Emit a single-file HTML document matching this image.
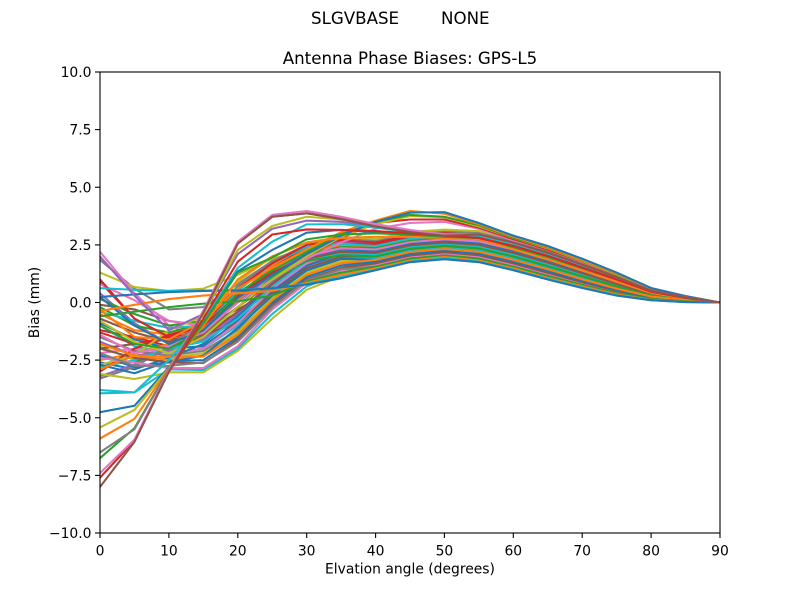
<!DOCTYPE html>
<html><head><meta charset="utf-8"><style>
html,body{margin:0;padding:0;background:#fff;}
svg{display:block;}
text{font-family:"DejaVu Sans","Liberation Sans",sans-serif;fill:#000;}
</style></head><body>
<svg width="800" height="600" viewBox="0 0 800 600" xmlns="http://www.w3.org/2000/svg">
<rect x="0" y="0" width="800" height="600" fill="#fff"/>
<text x="311" y="24" font-size="16.67">SLGVBASE</text>
<text x="441" y="24" font-size="16.67">NONE</text>
<text x="410" y="64" font-size="16.67" text-anchor="middle">Antenna Phase Biases: GPS-L5</text>
<defs><clipPath id="c"><rect x="100" y="72" width="620" height="461"/></clipPath></defs>
<g clip-path="url(#c)">
<g transform="translate(100,302.5) scale(6.888889,-23.05)" fill="none" stroke-width="2.08" stroke-linejoin="round" stroke-linecap="square">
<!-- middle bundle -->
<polyline vector-effect="non-scaling-stroke" stroke="#7f7f7f" points="0,1.85 5,0.6 10,-0.3 15,-0.2 20,0.8 25,1.8 30,2.4 35,2.5 40,2.45 45,2.77 50,2.88 55,2.8 60,2.45 65,2.02 70,1.52 75,1.0 80,0.47 85,0.2 90,0"/>
<polyline vector-effect="non-scaling-stroke" stroke="#bcbd22" points="0,1.3 5,0.67 10,0.5 15,0.6 20,1.2 25,1.9 30,2.3 35,2.4 40,2.38 45,2.7 50,2.81 55,2.72 60,2.38 65,1.94 70,1.46 75,0.95 80,0.45 85,0.19 90,0"/>
<polyline vector-effect="non-scaling-stroke" stroke="#d62728" points="0,0.9 5,-0.7 10,-1.5 15,-1.3 20,-0.2 25,0.9 30,1.7 35,2.1 40,2.0 45,2.33 50,2.46 55,2.35 60,2.0 65,1.58 70,1.14 75,0.7 80,0.31 85,0.12 90,0"/>
<polyline vector-effect="non-scaling-stroke" stroke="#9467bd" points="0,0.4 5,-0.9 10,-1.8 15,-1.7 20,-0.6 25,0.6 30,1.5 35,1.95 40,1.92 45,2.26 50,2.39 55,2.28 60,1.92 65,1.51 70,1.08 75,0.65 80,0.28 85,0.11 90,0"/>
<polyline vector-effect="non-scaling-stroke" stroke="#8c564b" points="0,-0.1 5,-0.3 10,-0.8 15,-1.0 20,-0.3 25,0.5 30,1.4 35,1.85 40,1.85 45,2.19 50,2.32 55,2.2 60,1.85 65,1.44 70,1.01 75,0.6 80,0.26 85,0.1 90,0"/>
<polyline vector-effect="non-scaling-stroke" stroke="#e377c2" points="0,2.2 5,0.4 10,-1.0 15,-1.6 20,-0.8 25,0.4 30,1.3 35,1.8 40,1.78 45,2.11 50,2.25 55,2.12 60,1.78 65,1.36 70,0.95 75,0.55 80,0.23 85,0.08 90,0"/>
<polyline vector-effect="non-scaling-stroke" stroke="#2ca02c" points="0,-0.2 5,-1.0 10,-1.3 15,-0.9 20,0.4 25,1.4 30,2.1 35,2.3 40,2.22 45,2.55 50,2.67 55,2.58 60,2.22 65,1.8 70,1.33 75,0.85 80,0.4 85,0.16 90,0"/>
<polyline vector-effect="non-scaling-stroke" stroke="#ff7f0e" points="0,-0.5 5,-1.2 10,-1.4 15,-1.2 20,0.3 25,1.6 30,2.3 35,2.4 40,2.3 45,2.62 50,2.74 55,2.65 60,2.3 65,1.87 70,1.39 75,0.9 80,0.42 85,0.18 90,0"/>
<polyline vector-effect="non-scaling-stroke" stroke="#1f77b4" points="0,-0.9 5,-1.6 10,-2.0 15,-1.9 20,-0.8 25,0.5 30,1.6 35,2.1 40,2.08 45,2.4 50,2.53 55,2.42 60,2.08 65,1.65 70,1.2 75,0.75 80,0.34 85,0.14 90,0"/>
<polyline vector-effect="non-scaling-stroke" stroke="#17becf" points="0,-1.0 5,-1.9 10,-2.2 15,-2.0 20,-1.0 25,0.3 30,1.4 35,1.95 40,1.92 45,2.26 50,2.39 55,2.28 60,1.92 65,1.51 70,1.08 75,0.65 80,0.28 85,0.11 90,0"/>
<polyline vector-effect="non-scaling-stroke" stroke="#d62728" points="0,-1.2 5,-1.5 10,-1.9 15,-1.5 20,-0.4 25,0.8 30,1.8 35,2.2 40,2.15 45,2.48 50,2.6 55,2.5 60,2.15 65,1.73 70,1.27 75,0.8 80,0.37 85,0.15 90,0"/>
<polyline vector-effect="non-scaling-stroke" stroke="#7f7f7f" points="0,-1.5 5,-2.1 10,-2.3 15,-2.1 20,-1.2 25,0.1 30,1.2 35,1.7 40,1.7 45,2.04 50,2.18 55,2.05 60,1.7 65,1.29 70,0.88 75,0.5 80,0.21 85,0.07 90,0"/>
<polyline vector-effect="non-scaling-stroke" stroke="#9467bd" points="0,-1.7 5,-2.3 10,-2.1 15,-1.6 20,-0.5 25,0.9 30,2.0 35,2.35 40,2.3 45,2.62 50,2.74 55,2.65 60,2.3 65,1.87 70,1.39 75,0.9 80,0.42 85,0.18 90,0"/>
<polyline vector-effect="non-scaling-stroke" stroke="#bcbd22" points="0,-1.9 5,-2.5 10,-2.4 15,-2.2 20,-1.3 25,0.2 30,1.3 35,1.8 40,1.78 45,2.11 50,2.25 55,2.12 60,1.78 65,1.36 70,0.95 75,0.55 80,0.23 85,0.08 90,0"/>
<polyline vector-effect="non-scaling-stroke" stroke="#8c564b" points="0,-2.0 5,-1.8 10,-1.6 15,-1.4 20,-0.9 25,0.4 30,1.5 35,2.0 40,2.0 45,2.33 50,2.46 55,2.35 60,2.0 65,1.58 70,1.14 75,0.7 80,0.31 85,0.12 90,0"/>
<polyline vector-effect="non-scaling-stroke" stroke="#e377c2" points="0,-2.2 5,-2.0 10,-2.2 15,-2.0 20,-0.9 25,0.6 30,1.7 35,2.2 40,2.15 45,2.48 50,2.6 55,2.5 60,2.15 65,1.73 70,1.27 75,0.8 80,0.37 85,0.15 90,0"/>
<polyline vector-effect="non-scaling-stroke" stroke="#2ca02c" points="0,-2.4 5,-2.6 10,-2.0 15,-1.4 20,-0.2 25,1.1 30,2.1 35,2.45 40,2.38 45,2.7 50,2.81 55,2.72 60,2.38 65,1.94 70,1.46 75,0.95 80,0.45 85,0.19 90,0"/>
<polyline vector-effect="non-scaling-stroke" stroke="#ff7f0e" points="0,-2.5 5,-2.2 10,-1.8 15,-1.1 20,0.1 25,1.3 30,2.2 35,2.5 40,2.45 45,2.77 50,2.88 55,2.8 60,2.45 65,2.02 70,1.52 75,1.0 80,0.47 85,0.2 90,0"/>
<polyline vector-effect="non-scaling-stroke" stroke="#1f77b4" points="0,-2.6 5,-2.9 10,-2.4 15,-1.8 20,-0.6 25,0.8 30,1.9 35,2.3 40,2.22 45,2.55 50,2.67 55,2.58 60,2.22 65,1.8 70,1.33 75,0.85 80,0.4 85,0.16 90,0"/>
<polyline vector-effect="non-scaling-stroke" stroke="#17becf" points="0,-2.8 5,-2.5 10,-2.0 15,-1.7 20,-0.7 25,0.7 30,1.8 35,2.15 40,2.08 45,2.4 50,2.53 55,2.42 60,2.08 65,1.65 70,1.2 75,0.75 80,0.34 85,0.14 90,0"/>
<polyline vector-effect="non-scaling-stroke" stroke="#d62728" points="0,-3.0 5,-2.0 10,-1.4 15,-1.0 20,0.2 25,1.5 30,2.4 35,2.6 40,2.52 45,2.84 50,2.95 55,2.88 60,2.52 65,2.09 70,1.58 75,1.05 80,0.5 85,0.22 90,0"/>
<polyline vector-effect="non-scaling-stroke" stroke="#9467bd" points="0,-3.2 5,-2.7 10,-2.0 15,-1.2 20,0.0 25,1.2 30,2.2 35,2.65 40,2.6 45,2.91 50,3.02 55,2.95 60,2.6 65,2.16 70,1.65 75,1.1 80,0.52 85,0.23 90,0"/>
<polyline vector-effect="non-scaling-stroke" stroke="#7f7f7f" points="0,-3.3 5,-2.8 10,-1.9 15,-0.8 20,0.7 25,1.8 30,2.5 35,2.75 40,2.68 45,2.98 50,3.09 55,3.02 60,2.68 65,2.24 70,1.71 75,1.15 80,0.55 85,0.24 90,0"/>
<polyline vector-effect="non-scaling-stroke" stroke="#8c564b" points="0,-0.7 5,-1.3 10,-1.7 15,-1.4 20,-0.4 25,0.8 30,1.9 35,2.2 40,2.15 45,2.48 50,2.6 55,2.5 60,2.15 65,1.73 70,1.27 75,0.8 80,0.37 85,0.15 90,0"/>
<polyline vector-effect="non-scaling-stroke" stroke="#2ca02c" points="0,0.15 5,-0.5 10,-1.0 15,-0.8 20,0.0 25,1.0 30,1.8 35,2.05 40,2.0 45,2.33 50,2.46 55,2.35 60,2.0 65,1.58 70,1.14 75,0.7 80,0.31 85,0.12 90,0"/>
<polyline vector-effect="non-scaling-stroke" stroke="#ff7f0e" points="0,-1.8 5,-2.3 10,-2.5 15,-2.3 20,-1.4 25,0.0 30,1.1 35,1.6 40,1.62 45,1.97 50,2.11 55,1.97 60,1.62 65,1.22 70,0.82 75,0.45 80,0.18 85,0.06 90,0"/>
<polyline vector-effect="non-scaling-stroke" stroke="#1f77b4" points="0,-2.3 5,-2.8 10,-2.6 15,-2.3 20,-1.1 25,0.3 30,1.4 35,1.9 40,1.85 45,2.19 50,2.32 55,2.2 60,1.85 65,1.44 70,1.01 75,0.6 80,0.26 85,0.1 90,0"/>
<polyline vector-effect="non-scaling-stroke" stroke="#e377c2" points="0,0.8 5,0.1 10,-0.8 15,-1.0 20,0.2 25,1.3 30,2.0 35,2.35 40,2.3 45,2.62 50,2.74 55,2.65 60,2.3 65,1.87 70,1.39 75,0.9 80,0.42 85,0.18 90,0"/>
<polyline vector-effect="non-scaling-stroke" stroke="#17becf" points="0,-0.4 5,-0.8 10,-1.1 15,-1.0 20,0.5 25,1.7 30,2.4 35,2.55 40,2.45 45,2.77 50,2.88 55,2.8 60,2.45 65,2.02 70,1.52 75,1.0 80,0.47 85,0.2 90,0"/>
<polyline vector-effect="non-scaling-stroke" stroke="#d62728" points="0,-1.3 5,-1.8 10,-1.5 15,-0.9 20,0.6 25,1.7 30,2.5 35,2.7 40,2.6 45,2.91 50,3.02 55,2.95 60,2.6 65,2.16 70,1.65 75,1.1 80,0.52 85,0.23 90,0"/>
<polyline vector-effect="non-scaling-stroke" stroke="#bcbd22" points="0,-2.7 5,-2.3 10,-1.2 15,-0.6 20,0.9 25,2.0 30,2.6 35,2.85 40,2.75 45,3.06 50,3.16 55,3.1 60,2.75 65,2.31 70,1.77 75,1.2 80,0.58 85,0.25 90,0"/>
<!-- dip group -->
<polyline vector-effect="non-scaling-stroke" stroke="#bcbd22" points="0,-3.1 5,-3.32 10,-3.03 15,-3.03 20,-2.1 25,-0.7 30,0.55 35,1.15 40,1.48 45,1.82 50,1.97 55,1.82 60,1.48 65,1.07 70,0.7 75,0.35 80,0.12 85,0.03 90,0"/>
<polyline vector-effect="non-scaling-stroke" stroke="#17becf" points="0,-3.8 5,-3.9 10,-2.9 15,-2.93 20,-2.0 25,-0.5 30,0.7 35,1.25 40,1.55 45,1.9 50,2.04 55,1.9 60,1.55 65,1.15 70,0.76 75,0.4 80,0.15 85,0.05 90,0"/>
<polyline vector-effect="non-scaling-stroke" stroke="#e377c2" points="0,-2.4 5,-2.6 10,-2.85 15,-2.84 20,-1.9 25,-0.3 30,0.85 35,1.4 40,1.62 45,1.97 50,2.11 55,1.97 60,1.62 65,1.22 70,0.82 75,0.45 80,0.18 85,0.06 90,0"/>
<polyline vector-effect="non-scaling-stroke" stroke="#8c564b" points="0,-2.0 5,-2.4 10,-2.6 15,-2.63 20,-1.6 25,-0.1 30,1.0 35,1.5 40,1.7 45,2.04 50,2.18 55,2.05 60,1.7 65,1.29 70,0.88 75,0.5 80,0.21 85,0.07 90,0"/>
<polyline vector-effect="non-scaling-stroke" stroke="#1f77b4" points="0,-2.7 5,-3.07 10,-2.55 15,-2.5 20,-1.5 25,0.0 30,1.1 35,1.6 40,1.78 45,2.11 50,2.25 55,2.12 60,1.78 65,1.36 70,0.95 75,0.55 80,0.23 85,0.08 90,0"/>
<polyline vector-effect="non-scaling-stroke" stroke="#ff7f0e" points="0,-2.9 5,-2.3 10,-2.35 15,-2.35 20,-1.4 25,0.1 30,1.2 35,1.7 40,1.85 45,2.19 50,2.32 55,2.2 60,1.85 65,1.44 70,1.01 75,0.6 80,0.26 85,0.1 90,0"/>
<polyline vector-effect="non-scaling-stroke" stroke="#7f7f7f" points="0,-2.2 5,-2.75 10,-2.75 15,-2.6 20,-1.7 25,-0.2 30,0.95 35,1.45 40,1.55 45,1.9 50,2.04 55,1.9 60,1.55 65,1.15 70,0.76 75,0.4 80,0.15 85,0.05 90,0"/>
<!-- peak 45-50 group -->
<polyline vector-effect="non-scaling-stroke" stroke="#e377c2" points="0,-1.4 5,-2.2 10,-1.9 15,-1.3 20,0.0 25,1.0 30,1.9 35,2.6 40,3.2 45,3.45 50,3.5 55,3.2 60,2.7 65,2.3 70,1.75 75,1.18 80,0.57 85,0.25 90,0"/>
<polyline vector-effect="non-scaling-stroke" stroke="#d62728" points="0,1.0 5,-0.7 10,-1.5 15,-1.0 20,0.3 25,1.3 30,2.0 35,2.8 40,3.45 45,3.6 50,3.6 55,3.25 60,2.75 65,2.3 70,1.78 75,1.2 80,0.58 85,0.25 90,0"/>
<polyline vector-effect="non-scaling-stroke" stroke="#bcbd22" points="0,-0.8 5,-1.7 10,-2.2 15,-1.5 20,-0.2 25,1.0 30,2.0 35,2.85 40,3.4 45,3.75 50,3.7 55,3.3 60,2.8 65,2.35 70,1.8 75,1.22 80,0.59 85,0.26 90,0"/>
<polyline vector-effect="non-scaling-stroke" stroke="#2ca02c" points="0,-1.0 5,-1.8 10,-2.0 15,-1.2 20,0.4 25,1.4 30,2.2 35,3.0 40,3.5 45,3.8 50,3.72 55,3.35 60,2.8 65,2.38 70,1.83 75,1.25 80,0.6 85,0.27 90,0"/>
<polyline vector-effect="non-scaling-stroke" stroke="#ff7f0e" points="0,-0.3 5,-1.5 10,-1.6 15,-0.8 20,0.6 25,1.5 30,2.3 35,3.05 40,3.55 45,3.97 50,3.85 55,3.4 60,2.85 65,2.4 70,1.85 75,1.27 80,0.6 85,0.27 90,0"/>
<polyline vector-effect="non-scaling-stroke" stroke="#1f77b4" points="0,0.25 5,-1.0 10,-1.8 15,-1.2 20,0.2 25,1.2 30,2.1 35,2.9 40,3.5 45,3.9 50,3.92 55,3.45 60,2.9 65,2.45 70,1.9 75,1.3 80,0.63 85,0.28 90,0"/>
<!-- flat group -->
<polyline vector-effect="non-scaling-stroke" stroke="#2ca02c" points="0,-0.6 5,-0.4 10,-0.2 15,-0.05 20,0.05 25,0.3 30,0.9 35,1.3 40,1.55 45,1.9 50,2.04 55,1.9 60,1.55 65,1.15 70,0.76 75,0.4 80,0.15 85,0.05 90,0"/>
<polyline vector-effect="non-scaling-stroke" stroke="#ff7f0e" points="0,-0.37 5,-0.1 10,0.15 15,0.3 20,0.4 25,0.5 30,0.85 35,1.2 40,1.48 45,1.82 50,1.97 55,1.82 60,1.48 65,1.07 70,0.7 75,0.35 80,0.12 85,0.03 90,0"/>
<polyline vector-effect="non-scaling-stroke" stroke="#17becf" points="0,0.62 5,0.55 10,0.5 15,0.52 20,0.55 25,0.6 30,0.8 35,1.1 40,1.42 45,1.77 50,1.92 55,1.77 60,1.42 65,1.02 70,0.65 75,0.31 80,0.1 85,0.02 90,0"/>
<polyline vector-effect="non-scaling-stroke" stroke="#1f77b4" points="0,0.24 5,0.35 10,0.45 15,0.5 20,0.52 25,0.62 30,0.78 35,1.05 40,1.4 45,1.75 50,1.88 55,1.75 60,1.4 65,1.0 70,0.63 75,0.3 80,0.1 85,0.02 90,0"/>
<!-- high peak at 30 group -->
<polyline vector-effect="non-scaling-stroke" stroke="#9467bd" points="0,2.0 5,0.3 10,-1.2 15,-0.5 20,2.1 25,3.2 30,3.55 35,3.5 40,3.3 45,3.1 50,2.95 55,2.9 60,2.52 65,2.09 70,1.58 75,1.05 80,0.5 85,0.22 90,0"/>
<polyline vector-effect="non-scaling-stroke" stroke="#17becf" points="0,-3.94 5,-3.9 10,-2.5 15,-0.8 20,1.5 25,2.64 30,3.39 35,3.4 40,3.25 45,3.05 50,2.95 55,2.9 60,2.52 65,2.09 70,1.58 75,1.05 80,0.5 85,0.22 90,0"/>
<polyline vector-effect="non-scaling-stroke" stroke="#1f77b4" points="0,-4.76 5,-4.48 10,-2.8 15,-0.9 20,1.35 25,2.28 30,3.03 35,3.15 40,3.05 45,2.95 50,2.85 55,2.8 60,2.45 65,2.02 70,1.52 75,1.0 80,0.47 85,0.2 90,0"/>
<polyline vector-effect="non-scaling-stroke" stroke="#bcbd22" points="0,-5.42 5,-4.66 10,-2.85 15,-0.5 20,2.28 25,3.32 30,3.72 35,3.6 40,3.35 45,3.1 50,2.95 55,2.95 60,2.6 65,2.16 70,1.65 75,1.1 80,0.52 85,0.23 90,0"/>
<polyline vector-effect="non-scaling-stroke" stroke="#ff7f0e" points="0,-5.9 5,-5.05 10,-2.85 15,-1.0 20,1.0 25,2.0 30,2.6 35,2.8 40,2.85 45,2.85 50,2.8 55,2.75 60,2.3 65,1.87 70,1.39 75,0.9 80,0.42 85,0.18 90,0"/>
<polyline vector-effect="non-scaling-stroke" stroke="#2ca02c" points="0,-6.75 5,-5.45 10,-2.9 15,-0.9 20,1.3 25,1.95 30,2.74 35,2.95 40,3.0 45,2.95 50,2.85 55,2.8 60,2.45 65,2.02 70,1.52 75,1.0 80,0.47 85,0.2 90,0"/>
<polyline vector-effect="non-scaling-stroke" stroke="#7f7f7f" points="0,-6.5 5,-5.5 10,-2.9 15,-0.4 20,2.58 25,3.72 30,3.87 35,3.7 40,3.4 45,3.12 50,2.98 55,3.0 60,2.6 65,2.16 70,1.65 75,1.1 80,0.52 85,0.23 90,0"/>
<polyline vector-effect="non-scaling-stroke" stroke="#d62728" points="0,-7.6 5,-6.0 10,-3.0 15,-0.7 20,1.77 25,2.95 30,3.17 35,3.15 40,3.1 45,3.0 50,2.9 55,2.8 60,2.45 65,2.02 70,1.52 75,1.0 80,0.47 85,0.2 90,0"/>
<polyline vector-effect="non-scaling-stroke" stroke="#e377c2" points="0,-7.4 5,-5.95 10,-2.95 15,-0.35 20,2.64 25,3.8 30,3.97 35,3.72 40,3.4 45,3.15 50,2.95 55,2.95 60,2.6 65,2.16 70,1.65 75,1.1 80,0.52 85,0.23 90,0"/>
<polyline vector-effect="non-scaling-stroke" stroke="#8c564b" points="0,-8.0 5,-6.05 10,-3.0 15,-0.45 20,2.55 25,3.72 30,3.87 35,3.62 40,3.3 45,3.05 50,2.9 55,2.95 60,2.6 65,2.16 70,1.65 75,1.1 80,0.52 85,0.23 90,0"/>
</g>
</g>
<!-- axes frame -->
<rect x="100" y="72" width="620" height="461" fill="none" stroke="#000" stroke-width="1.1"/>
<g stroke="#000" stroke-width="1.1">
<line x1="100" y1="533" x2="100" y2="538"/>
<line x1="168.9" y1="533" x2="168.9" y2="538"/>
<line x1="237.8" y1="533" x2="237.8" y2="538"/>
<line x1="306.7" y1="533" x2="306.7" y2="538"/>
<line x1="375.6" y1="533" x2="375.6" y2="538"/>
<line x1="444.4" y1="533" x2="444.4" y2="538"/>
<line x1="513.3" y1="533" x2="513.3" y2="538"/>
<line x1="582.2" y1="533" x2="582.2" y2="538"/>
<line x1="651.1" y1="533" x2="651.1" y2="538"/>
<line x1="720" y1="533" x2="720" y2="538"/>
<line x1="95" y1="72" x2="100" y2="72"/>
<line x1="95" y1="129.6" x2="100" y2="129.6"/>
<line x1="95" y1="187.25" x2="100" y2="187.25"/>
<line x1="95" y1="244.9" x2="100" y2="244.9"/>
<line x1="95" y1="302.5" x2="100" y2="302.5"/>
<line x1="95" y1="360.1" x2="100" y2="360.1"/>
<line x1="95" y1="417.75" x2="100" y2="417.75"/>
<line x1="95" y1="475.4" x2="100" y2="475.4"/>
<line x1="95" y1="533" x2="100" y2="533"/>
</g>
<g font-size="13.89" text-anchor="middle">
<text x="100" y="555.5">0</text>
<text x="168.9" y="555.5">10</text>
<text x="237.8" y="555.5">20</text>
<text x="306.7" y="555.5">30</text>
<text x="375.6" y="555.5">40</text>
<text x="444.4" y="555.5">50</text>
<text x="513.3" y="555.5">60</text>
<text x="582.2" y="555.5">70</text>
<text x="651.1" y="555.5">80</text>
<text x="720" y="555.5">90</text>
</g>
<g font-size="13.89" text-anchor="end">
<text x="91.5" y="77.1">10.0</text>
<text x="91.5" y="134.7">7.5</text>
<text x="91.5" y="192.35">5.0</text>
<text x="91.5" y="250">2.5</text>
<text x="91.5" y="307.6">0.0</text>
<text x="91.5" y="365.2">−2.5</text>
<text x="91.5" y="422.85">−5.0</text>
<text x="91.5" y="480.5">−7.5</text>
<text x="91.5" y="538.1">−10.0</text>
</g>
<text x="410" y="573.5" font-size="13.89" text-anchor="middle">Elvation angle (degrees)</text>
<text transform="translate(39,302.5) rotate(-90)" x="0" y="0" font-size="13.89" text-anchor="middle">Bias (mm)</text>
</svg>
</body></html>
